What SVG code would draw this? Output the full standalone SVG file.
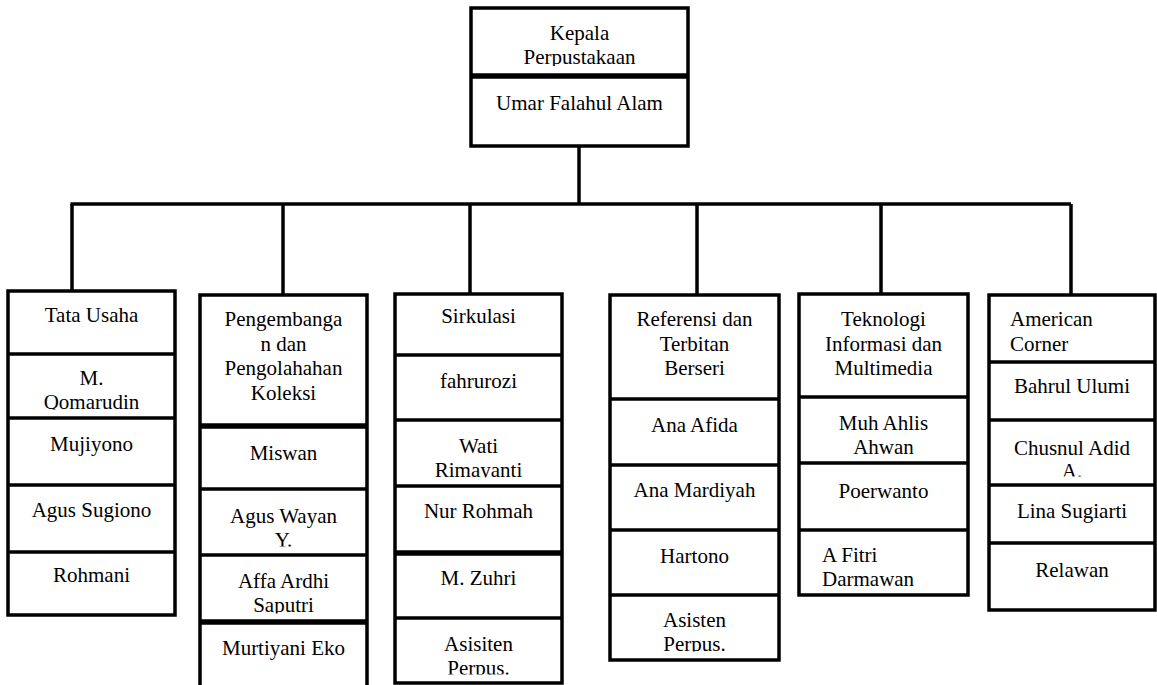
<svg xmlns="http://www.w3.org/2000/svg" width="1157" height="685" viewBox="0 0 1157 685">
<style>
.box{fill:#fff;stroke:#000;stroke-width:3.5}
.div{stroke:#000;stroke-width:3.5}
.thk{stroke:#000;stroke-width:5.5}
.con{stroke:#000;stroke-width:3.5;fill:none}
.t text{font-size:21px;fill:#000;text-anchor:middle}
.t .l{text-anchor:start}
</style>
<defs>
<clipPath id="cK"><rect x="471" y="8" width="217" height="58"/></clipPath>
<clipPath id="cQ"><rect x="8" y="354" width="167" height="55.5"/></clipPath>
<clipPath id="cY"><rect x="200" y="489" width="167" height="57.5"/></clipPath>
<clipPath id="cS"><rect x="200" y="555" width="167" height="58.5"/></clipPath>
<clipPath id="cW"><rect x="395" y="420" width="167" height="57.5"/></clipPath>
<clipPath id="cP3"><rect x="395" y="618" width="167" height="56.5"/></clipPath>
<clipPath id="cP4"><rect x="610" y="595" width="169" height="56.5"/></clipPath>
<clipPath id="cA"><rect x="799" y="397" width="169" height="57.5"/></clipPath>
<clipPath id="cD"><rect x="799" y="530" width="169" height="56.5"/></clipPath>
<clipPath id="cC"><rect x="989" y="295" width="166" height="58.5"/></clipPath>
<clipPath id="cAd"><rect x="989" y="420" width="166" height="56.5"/></clipPath>
</defs>

<g id="connectors">
<line class="con" x1="579" y1="146" x2="579" y2="204"/>
<line class="con" x1="70.5" y1="204" x2="1071" y2="204"/>
<line class="con" x1="72" y1="204" x2="72" y2="291"/>
<line class="con" x1="283" y1="204" x2="283" y2="295"/>
<line class="con" x1="470" y1="204" x2="470" y2="294"/>
<line class="con" x1="697" y1="204" x2="697" y2="295"/>
<line class="con" x1="881" y1="204" x2="881" y2="294"/>
<line class="con" x1="1071" y1="204" x2="1071" y2="295"/>
</g>

<g class="t" font-family="'Liberation Serif', 'Times New Roman', 'DejaVu Serif', serif">
<g id="kepala">
<rect class="box" x="471" y="8" width="217" height="138"/>
<line class="thk" x1="471" y1="76" x2="688" y2="76"/>
<g clip-path="url(#cK)"><text x="579.5" y="40">Kepala</text><text x="579.5" y="64">Perpustakaan</text></g>
<text x="579.5" y="110">Umar Falahul Alam</text>
</g>

<g id="tata-usaha">
<rect class="box" x="8" y="291" width="167" height="324"/>
<line class="div" x1="8" y1="354" x2="175" y2="354"/>
<line class="div" x1="8" y1="418" x2="175" y2="418"/>
<line class="div" x1="8" y1="485" x2="175" y2="485"/>
<line class="div" x1="8" y1="552" x2="175" y2="552"/>
<text x="91.5" y="322">Tata Usaha</text>
<g clip-path="url(#cQ)"><text x="91.5" y="385">M.</text><text x="91.5" y="409">Qomarudin</text></g>
<text x="91.5" y="451">Mujiyono</text>
<text x="91.5" y="517">Agus Sugiono</text>
<text x="91.5" y="582">Rohmani</text>
</g>

<g id="pengembangan">
<rect class="box" x="200" y="295" width="167" height="400"/>
<line class="thk" x1="200" y1="426" x2="367" y2="426"/>
<line class="div" x1="200" y1="489" x2="367" y2="489"/>
<line class="div" x1="200" y1="555" x2="367" y2="555"/>
<line class="thk" x1="200" y1="622" x2="367" y2="622"/>
<text x="283.5" y="326">Pengembanga</text>
<text x="283.5" y="350.5">n dan</text>
<text x="283.5" y="375">Pengolahahan</text>
<text x="283.5" y="399.5">Koleksi</text>
<text x="283.5" y="460">Miswan</text>
<g clip-path="url(#cY)"><text x="283.5" y="523">Agus Wayan</text><text x="283.5" y="547">Y.</text></g>
<g clip-path="url(#cS)"><text x="283.5" y="588">Affa Ardhi</text><text x="283.5" y="612">Saputri</text></g>
<text x="283.5" y="655">Murtiyani Eko</text>
</g>

<g id="sirkulasi">
<rect class="box" x="395" y="294" width="167" height="389"/>
<line class="div" x1="395" y1="355" x2="562" y2="355"/>
<line class="div" x1="395" y1="420" x2="562" y2="420"/>
<line class="div" x1="395" y1="486" x2="562" y2="486"/>
<line class="thk" x1="395" y1="553" x2="562" y2="553"/>
<line class="div" x1="395" y1="618" x2="562" y2="618"/>
<text x="478.5" y="323">Sirkulasi</text>
<text x="478.5" y="388">fahrurozi</text>
<g clip-path="url(#cW)"><text x="478.5" y="453">Wati</text><text x="478.5" y="477">Rimayanti</text></g>
<text x="478.5" y="518">Nur Rohmah</text>
<text x="478.5" y="585">M. Zuhri</text>
<g clip-path="url(#cP3)"><text x="478.5" y="651">Asisiten</text><text x="478.5" y="675">Perpus.</text></g>
</g>

<g id="referensi">
<rect class="box" x="610" y="295" width="169" height="365"/>
<line class="div" x1="610" y1="399" x2="779" y2="399"/>
<line class="div" x1="610" y1="465" x2="779" y2="465"/>
<line class="div" x1="610" y1="530" x2="779" y2="530"/>
<line class="div" x1="610" y1="595" x2="779" y2="595"/>
<text x="694.5" y="326">Referensi dan</text>
<text x="694.5" y="350.5">Terbitan</text>
<text x="694.5" y="375">Berseri</text>
<text x="694.5" y="432">Ana Afida</text>
<text x="694.5" y="497">Ana Mardiyah</text>
<text x="694.5" y="563">Hartono</text>
<g clip-path="url(#cP4)"><text x="694.5" y="627">Asisten</text><text x="694.5" y="651">Perpus.</text></g>
</g>

<g id="teknologi">
<rect class="box" x="799" y="294" width="169" height="301"/>
<line class="div" x1="799" y1="397" x2="968" y2="397"/>
<line class="div" x1="799" y1="463" x2="968" y2="463"/>
<line class="div" x1="799" y1="530" x2="968" y2="530"/>
<text x="883.5" y="326">Teknologi</text>
<text x="883.5" y="350.5">Informasi dan</text>
<text x="883.5" y="375">Multimedia</text>
<g clip-path="url(#cA)"><text x="883.5" y="430">Muh Ahlis</text><text x="883.5" y="454">Ahwan</text></g>
<text x="883.5" y="498">Poerwanto</text>
<g clip-path="url(#cD)"><text class="l" x="822" y="562">A Fitri</text><text class="l" x="822" y="586">Darmawan</text></g>
</g>

<g id="american-corner">
<rect class="box" x="989" y="295" width="166" height="315"/>
<line class="div" x1="989" y1="362" x2="1155" y2="362"/>
<line class="div" x1="989" y1="420" x2="1155" y2="420"/>
<line class="div" x1="989" y1="485" x2="1155" y2="485"/>
<line class="div" x1="989" y1="543" x2="1155" y2="543"/>
<g clip-path="url(#cC)"><text class="l" x="1010" y="326">American</text><text class="l" x="1010" y="351">Corner</text></g>
<text x="1072" y="393">Bahrul Ulumi</text>
<g clip-path="url(#cAd)"><text x="1072" y="455">Chusnul Adid</text><text x="1072" y="478">A.</text></g>
<text x="1072" y="518">Lina Sugiarti</text>
<text x="1072" y="577">Relawan</text>
</g>
</g>
</svg>
